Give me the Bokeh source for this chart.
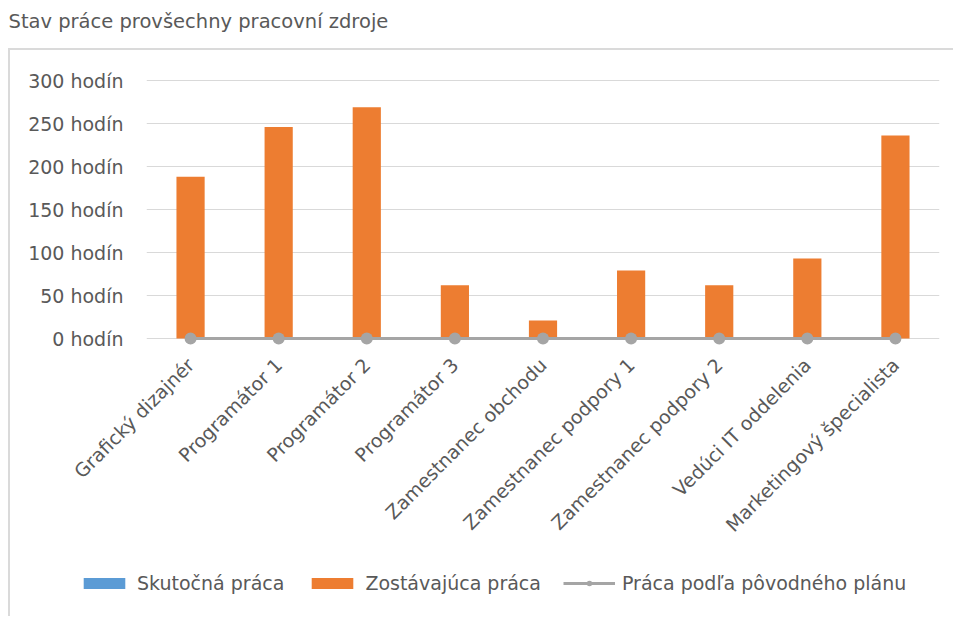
import math
from bokeh.plotting import figure
from bokeh.layouts import column, row
from bokeh.models import (Range1d, FactorRange, FixedTicker, Legend, LegendItem,
                          ColumnDataSource, InlineStyleSheet)
from bokeh.embed import file_html
from bokeh.resources import INLINE

# ---------------- data ----------------
categories = ["Grafický dizajnér", "Programátor 1", "Programátor 2", "Programátor 3",
              "Zamestnanec obchodu", "Zamestnanec podpory 1", "Zamestnanec podpory 2",
              "Vedúci IT oddelenia", "Marketingový špecialista"]
actual_work = [0, 0, 0, 0, 0, 0, 0, 0, 0]
remaining_work = [188, 246, 269, 62, 21, 79, 62, 93, 236]
planned_work = [0, 0, 0, 0, 0, 0, 0, 0, 0]
y_ticks = [0, 50, 100, 150, 200, 250, 300]
y_tick_labels = ["0 hodín", "50 hodín", "100 hodín", "150 hodín", "200 hodín",
                 "250 hodín", "300 hodín"]
series_names = ["Skutočná práca", "Zostávajúca práca", "Práca podľa pôvodného plánu"]
title_text = "Stav práce provšechny pracovní zdroje"

# ---------------- styles ----------------
FONT = "DejaVu Sans"
FS = "19px"
TEXT = "#595959"
BLUE = "#5b9bd5"
ORANGE = "#ed7d31"
GRAY = "#a5a5a5"
GRID = "#d9d9d9"
W = 953

src = ColumnDataSource(dict(
    cat=categories,
    actual=actual_work,
    zero=[0] * len(categories),
    total=[a + r for a, r in zip(actual_work, remaining_work)],
    plan=planned_work,
))


def add_series(fig):
    r1 = fig.vbar(x="cat", bottom="zero", top="actual", width=0.32, source=src,
                  fill_color=BLUE, line_color=None)
    r2 = fig.vbar(x="cat", bottom="actual", top="total", width=0.32, source=src,
                  fill_color=ORANGE, line_color=None)
    r3 = fig.line(x="cat", y="plan", source=src, line_color=GRAY, line_width=3)
    r4 = fig.scatter(x="cat", y="plan", source=src, size=12, fill_color=GRAY,
                     line_color=None)
    return r1, r2, r3, r4


def bare(fig):
    fig.outline_line_color = None
    fig.xgrid.grid_line_color = None
    fig.ygrid.grid_line_color = None
    fig.border_fill_color = None
    fig.background_fill_color = None


# ---------------- title strip ----------------
ft = figure(width=W, height=56, output_backend="svg", toolbar_location=None,
            x_range=FactorRange(*categories), y_range=Range1d(1000, 1001),
            x_axis_type=None, y_axis_type=None, title=title_text,
            min_border_left=146, min_border_right=14, min_border_top=37,
            min_border_bottom=0)
bare(ft)
ft.title.align = "left"
ft.title.offset = -138
ft.title.text_font = FONT
ft.title.text_font_size = "19.5px"
ft.title.text_font_style = "normal"
ft.title.text_color = TEXT

# ---------------- main chart ----------------
p = figure(width=W, height=504, output_backend="svg", toolbar_location=None,
           x_range=FactorRange(*categories, range_padding=0),
           y_range=Range1d(-10.465, 302.33),
           min_border_left=146, min_border_right=14, min_border_top=22,
           min_border_bottom=213)
p.outline_line_color = None
p.background_fill_color = None
p.border_fill_color = None
add_series(p)

p.xgrid.grid_line_color = None
p.ygrid.grid_line_color = GRID
p.ygrid.grid_line_width = 1
p.ygrid.ticker = FixedTicker(ticks=y_ticks)

p.yaxis.ticker = FixedTicker(ticks=y_ticks)
p.yaxis.major_label_overrides = {t: l for t, l in zip(y_ticks, y_tick_labels)}
p.yaxis.axis_line_color = None
p.yaxis.major_tick_line_color = None
p.yaxis.minor_tick_line_color = None
p.yaxis.major_label_standoff = 17
p.yaxis.major_label_text_font = FONT
p.yaxis.major_label_text_font_size = FS
p.yaxis.major_label_text_color = TEXT

p.xaxis.axis_line_color = None
p.xaxis.major_tick_line_color = None
p.xaxis.major_label_orientation = math.pi / 4
p.xaxis.major_label_standoff = 8
p.xaxis.major_label_text_font = FONT
p.xaxis.major_label_text_font_size = FS
p.xaxis.major_label_text_color = TEXT

# ---------------- legend strip ----------------
fl = figure(width=W, height=58, output_backend="svg", toolbar_location=None,
            x_range=FactorRange(*categories), y_range=Range1d(1000, 1001),
            x_axis_type=None, y_axis_type=None, min_border=0)
bare(fl)
l_act, l_rem, l_line, l_pts = add_series(fl)
legend = Legend(items=[
    LegendItem(label=series_names[0], renderers=[l_act]),
    LegendItem(label=series_names[1], renderers=[l_rem]),
    LegendItem(label=series_names[2], renderers=[l_line, l_pts]),
], orientation="horizontal", location=(78, 24), margin=0, padding=0,
    glyph_width=52, glyph_height=14, label_standoff=7, spacing=22,
    label_text_font=FONT, label_text_font_size=FS, label_text_color=TEXT,
    label_height=22, border_line_color=None, background_fill_alpha=0)
fl.add_layout(legend, "center")

layout = column(ft, p, row(fl, spacing=0), spacing=0)
layout.stylesheets = [InlineStyleSheet(css="""
:host { position: relative; }
:host::after {
  content: ''; position: absolute; left: 8px; top: 48px; width: 960px; height: 566px;
  border-left: 2px solid #dadada; border-top: 2px solid #dadada; pointer-events: none;
}
""")]

open("out.html", "w").write(file_html(layout, INLINE))
